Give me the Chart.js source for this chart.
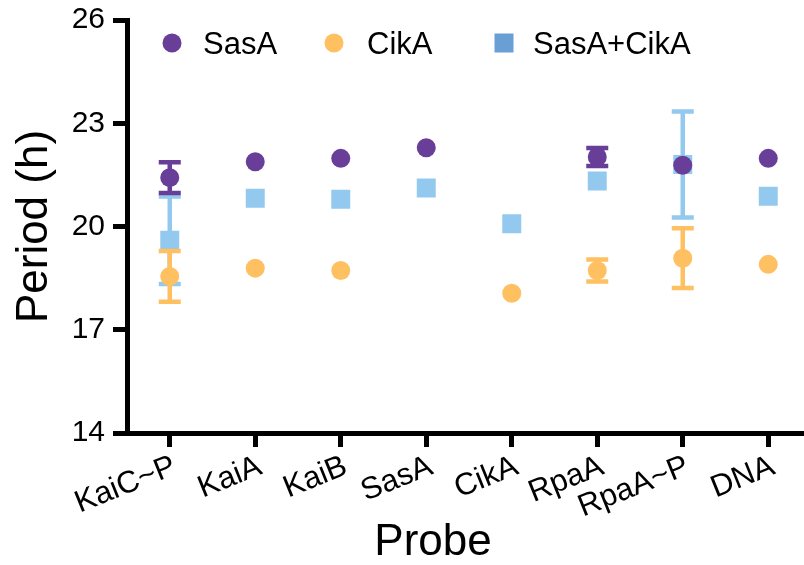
<!DOCTYPE html>
<html>
<head>
<meta charset="utf-8">
<script src="https://cdn.jsdelivr.net/npm/chart.js@4.4.1/dist/chart.umd.min.js"></script>
<style>
  html, body { margin: 0; padding: 0; background: #fff; overflow: hidden; }
  #wrap { width: 804px; height: 565px; overflow: hidden; }
</style>
</head>
<body>
<div id="wrap"><canvas id="periodChart" width="811" height="565"></canvas></div>
<script>
// data
const probes = ['KaiC~P', 'KaiA', 'KaiB', 'SasA', 'CikA', 'RpaA', 'RpaA~P', 'DNA'];
const sasA = [21.42, 21.88, 21.98, 22.29, null, 22.02, 21.78, 21.98];
const sasAErr = [0.45, 0, 0, 0, 0, 0.26, 0, 0];
const cikA = [18.55, 18.79, 18.72, null, 18.06, 18.72, 19.08, 18.9];
const cikAErr = [0.74, 0, 0, 0, 0, 0.32, 0.87, 0];
const sasACikA = [19.6, 20.82, 20.79, 21.12, 20.08, 21.32, 21.8, 20.88];
const sasACikAErr = [1.27, 0, 0, 0, 0, 0, 1.54, 0];
const yTicks = [14, 17, 20, 23, 26];

const FONT = "'Liberation Sans', Arial, Helvetica, sans-serif";
const purple = '#683e98';
const orange = '#ffc062';
const lightBlue = '#93c9ee';

// error bars, drawn just before each dataset's points
const errorBars = {
  id: 'errorBars',
  beforeDatasetDraw(chart, args) {
    const ds = chart.data.datasets[args.index];
    if (!ds.errors) return;
    const y = chart.scales.y;
    const ctx = chart.ctx;
    ctx.save();
    ctx.strokeStyle = ds.errorColor;
    ctx.lineWidth = 4.5;
    args.meta.data.forEach((pt, i) => {
      const v = ds.data[i];
      const e = ds.errors[i];
      if (v == null || !e) return;
      const top = y.getPixelForValue(v + e);
      const bot = y.getPixelForValue(v - e);
      ctx.beginPath();
      ctx.moveTo(pt.x, top);
      ctx.lineTo(pt.x, bot);
      ctx.moveTo(pt.x - 11, top);
      ctx.lineTo(pt.x + 11, top);
      ctx.moveTo(pt.x - 11, bot);
      ctx.lineTo(pt.x + 11, bot);
      ctx.stroke();
    });
    ctx.restore();
  }
};

// legend inside the plot and the x title
const extras = {
  id: 'extras',
  afterDraw(chart) {
    const ctx = chart.ctx;
    const markX = [172, 334, 504];
    const textX = [203, 367, 533];
    const ly = 43;
    ctx.save();
    ctx.font = '31px ' + FONT;
    ctx.textBaseline = 'middle';
    chart.data.datasets.forEach((ds, i) => {
      ctx.fillStyle = ds.legendColor;
      if (ds.pointStyle === 'rect') {
        ctx.fillRect(markX[i] - 9.5, ly - 9.5, 19, 19);
      } else {
        ctx.beginPath();
        ctx.arc(markX[i], ly, 9.5, 0, Math.PI * 2);
        ctx.fill();
      }
      ctx.fillStyle = '#000';
      ctx.fillText(ds.label, textX[i], ly + 2);
    });
    ctx.font = '44px ' + FONT;
    ctx.textAlign = 'center';
    ctx.textBaseline = 'alphabetic';
    ctx.fillText('Probe', 433, 555);
    ctx.restore();
  }
};

const ctx = document.getElementById('periodChart').getContext('2d');
new Chart(ctx, {
  type: 'line',
  data: {
    labels: probes,
    datasets: [
      {
        label: 'SasA',
        data: sasA,
        errors: sasAErr,
        errorColor: purple,
        legendColor: purple,
        pointStyle: 'circle',
        pointRadius: 9.5,
        backgroundColor: purple,
        borderColor: purple
      },
      {
        label: 'CikA',
        data: cikA,
        errors: cikAErr,
        errorColor: orange,
        legendColor: orange,
        pointStyle: 'circle',
        pointRadius: 9.5,
        backgroundColor: orange,
        borderColor: orange
      },
      {
        label: 'SasA+CikA',
        data: sasACikA,
        errors: sasACikAErr,
        errorColor: lightBlue,
        legendColor: '#6a9fd6',
        pointStyle: 'rect',
        pointRadius: 13.4,
        backgroundColor: lightBlue,
        borderColor: lightBlue
      }
    ]
  },
  options: {
    responsive: false,
    animation: false,
    showLine: false,
    devicePixelRatio: 1,
    elements: {
      point: { borderWidth: 0, hoverRadius: 9.5 }
    },
    layout: {
      autoPadding: false,
      padding: { top: 20, right: 0, left: 0, bottom: 0 }
    },
    plugins: {
      legend: { display: false },
      tooltip: { enabled: false }
    },
    scales: {
      x: {
        type: 'category',
        offset: true,
        afterFit(scale) { scale.height = 132; },
        grid: {
          offset: false,
          drawOnChartArea: false,
          tickLength: 14,
          tickWidth: 5,
          tickColor: '#000'
        },
        border: { display: true, width: 5, color: '#000' },
        ticks: {
          autoSkip: false,
          minRotation: 22,
          maxRotation: 22,
          padding: 1,
          labelOffset: 5,
          color: '#000',
          font: { family: FONT, size: 31 }
        }
      },
      y: {
        min: 14,
        max: 26,
        afterFit(scale) {
          scale.width = 127;
          scale.paddingTop = 0;
          scale.paddingBottom = 0;
        },
        afterBuildTicks(scale) { scale.ticks = yTicks.map(v => ({ value: v })); },
        grid: {
          drawOnChartArea: false,
          tickLength: 14,
          tickWidth: 5,
          tickColor: '#000'
        },
        border: { display: true, width: 5, color: '#000' },
        ticks: {
          padding: 8,
          color: '#000',
          font: { family: FONT, size: 30 }
        },
        title: {
          display: true,
          text: 'Period (h)',
          color: '#000',
          padding: { top: 8, bottom: 0 },
          font: { family: FONT, size: 44 }
        }
      }
    }
  },
  plugins: [errorBars, extras]
});
</script>
</body>
</html>
